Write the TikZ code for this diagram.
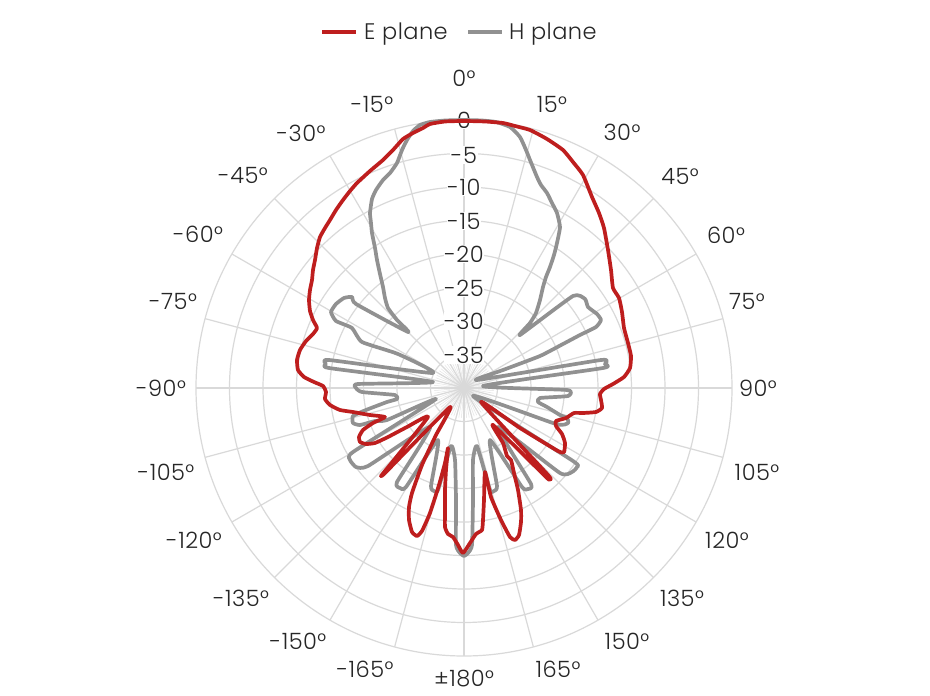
\documentclass[tikz,border=0pt]{standalone}
\usepackage{fontspec}
\setmainfont{Poppins Light}[LetterSpace=2]
\definecolor{gridc}{RGB}{217,217,217}
\definecolor{redc}{RGB}{190,30,30}
\definecolor{grayc}{RGB}{145,145,145}
\definecolor{txtc}{RGB}{38,38,38}
\begin{document}
\begin{tikzpicture}[x=1pt,y=-1pt,
  lbl/.style={font=\fontsize{22.5}{25}\selectfont, text=txtc, inner sep=1pt},
  rlbl/.style={lbl, fill=white, inner sep=0.5pt},
  gridline/.style={gridc, line width=1.2pt},
  curve/.style={line width=3.7pt, line join=round, line cap=round}]
\useasboundingbox[fill=white] (0,0) rectangle (930,696);
\coordinate (C) at (464,388);
% grid
\foreach \k in {1,...,8} \draw[gridline] (C) circle[radius=33.5*\k];
\foreach \t in {0,5,...,355} \draw[gridc!70, line width=0.5pt] (C) -- ++(\t-90:30);
\foreach \t in {0,15,...,345} \draw[gridline] (C) -- ++(\t-90:268);
% radial labels
\node[rlbl] (r0) at (464,120) {0};
\node[rlbl] (r5) at (464,155) {-5};
\node[rlbl] (r10) at (464,187) {-10};
\node[rlbl] (r15) at (464,221) {-15};
\node[rlbl] (r20) at (464,254) {-20};
\node[rlbl] (r25) at (464,288) {-25};
\node[rlbl] (r30) at (464,321) {-30};
\node[rlbl] (r35) at (464,355) {-35};
% angle labels
\foreach \lab/\x/\y [count=\i] in {0°/464/78, 15°/552/104, 30°/622/132, 45°/680/176, 60°/726/235, 75°/747/301, 90°/758/388, 105°/757/472, 120°/727/540, 135°/682/598, 150°/627/641, 165°/558/669, ±180°/464/679, -165°/365/669, -150°/298/641, -135°/241/598, -120°/194/540, -105°/166/472, -90°/161/388, -75°/173/301, -60°/198/234, -45°/243/175, -30°/301/133, -15°/372/104}
  \node[lbl] (a\i) at (\x,\y) {\lab};
% H plane
\draw[curve, grayc] plot[smooth cycle, tension=0.3] coordinates {
(464,120) (445,120.5) (430,122) (420,125) (413,131) (407,140) (402,150) (397,163) (390,173) (383,180) (376,190) (372,199) (370,213) (371,223) (372,233) (375,248) (377,260) (380,274) (383,287) (385,298) (388,308) (397,320) (408,332)
(356,304) (352,297) (344,298) (336,304) (331,312) (336,321) (352,328) (362,342) (398,354) (433,373)
(329,360) (326,364) (329,368) (433,382)
(358,384) (356,388) (362,392) (395,395) (397,399) (387,402) (366,410) (353,416) (353,423) (360,425) (375,421) (387,420) (436,399)
(353,452) (350,460) (356,467) (368,466) (430,427)
(397,482) (400,488) (406,487) (438,440)
(431,486) (434,491) (438,490) (451,446)
(455,460) (456,500) (456,545) (460,553) (464,556) (468,553) (472,545) (473,500) (473,460) (477,446)
(490,490) (494,491) (497,486) (490,440)
(522,487) (528,489) (531,484) (498,427)
(560,473) (572,472) (577,467) (573,461) (473,396)
(556,424) (568,423) (567,418) (560,415) (547,407) (538,402) (540,398) (568,396) (567,390) (483,386)
(603,368) (605,364) (601,360) (477,380)
(503,370) (540,356) (563,344) (580,335) (596,327) (601,320) (597,314) (588,307) (585,299) (573,296) (520,335)
(530,323) (536,313) (540,300) (543,287) (546,277) (550,267) (554,255) (557,243) (560,227) (557,213) (552,203) (547,193) (541,185) (537,177) (530,160) (526,150) (520,137) (510,127) (496,122) (482,120.5)};
% E plane
\draw[curve, redc] plot[smooth cycle, tension=0.3] coordinates {
(464,121) (445,121.5) (430,124) (423,128) (413,133) (403,139) (393,150) (383,160) (370,171) (357,183) (350,191) (343,200) (336,210) (330,220) (325,228) (320,237) (317,248) (315,260) (313,270) (312,280) (310,290) (309,300) (310,311) (313,320) (317,328) (313,334) (306,341) (300,350) (297,360) (298,370) (304,377) (314,382) (323,386) (326,392) (325,399) (330,405) (340,410) (353,412) (370,415) (385,417)
(373,423) (363,430) (359,437) (360,442) (366,444) (375,443) (388,437) (407,427) (428,417)
(385,471) (381,476) (386,472) (450,407)
(436,435) (422,465) (412,493) (409,507) (409,520) (412,532) (417,536) (422,531) (430,513) (439,485) (445,463) (448,448)
(446,470) (445,490) (445,510) (445,527) (448,534) (453,537) (458,545) (463,553)
(470,543) (476,534) (482,530) (483,520) (484,500) (485,472)
(491,497) (501,520) (510,537) (515,540) (519,535) (521,522) (521,510) (518,490) (514,473) (511,460) (507,456) (503,443) (493,425)
(546,477) (549,479) (548,475) (481,402)
(520,428) (558,451) (564,452) (565,443) (562,434) (556,426) (556,421) (566,418) (574,413) (583,413) (596,412) (602,408) (601,400) (600,394) (604,389) (613,384) (624,377) (630,368) (631,356) (628,343) (624,328) (622,312) (619,298) (613,288) (611,270) (608,250) (604,228) (599,213) (592,197) (583,175) (573,162) (563,150) (547,139) (530,130) (515,126) (503,123) (485,121.5)};
% legend
\draw[curve, redc, line cap=butt] (322,32) -- (356,32);
\node[lbl, anchor=base west] (leg1) at (363,39) {E plane};
\draw[curve, grayc, line cap=butt] (468,32) -- (502,32);
\node[lbl, anchor=base west] (leg2) at (508,39) {H plane};
\end{tikzpicture}
\end{document}
